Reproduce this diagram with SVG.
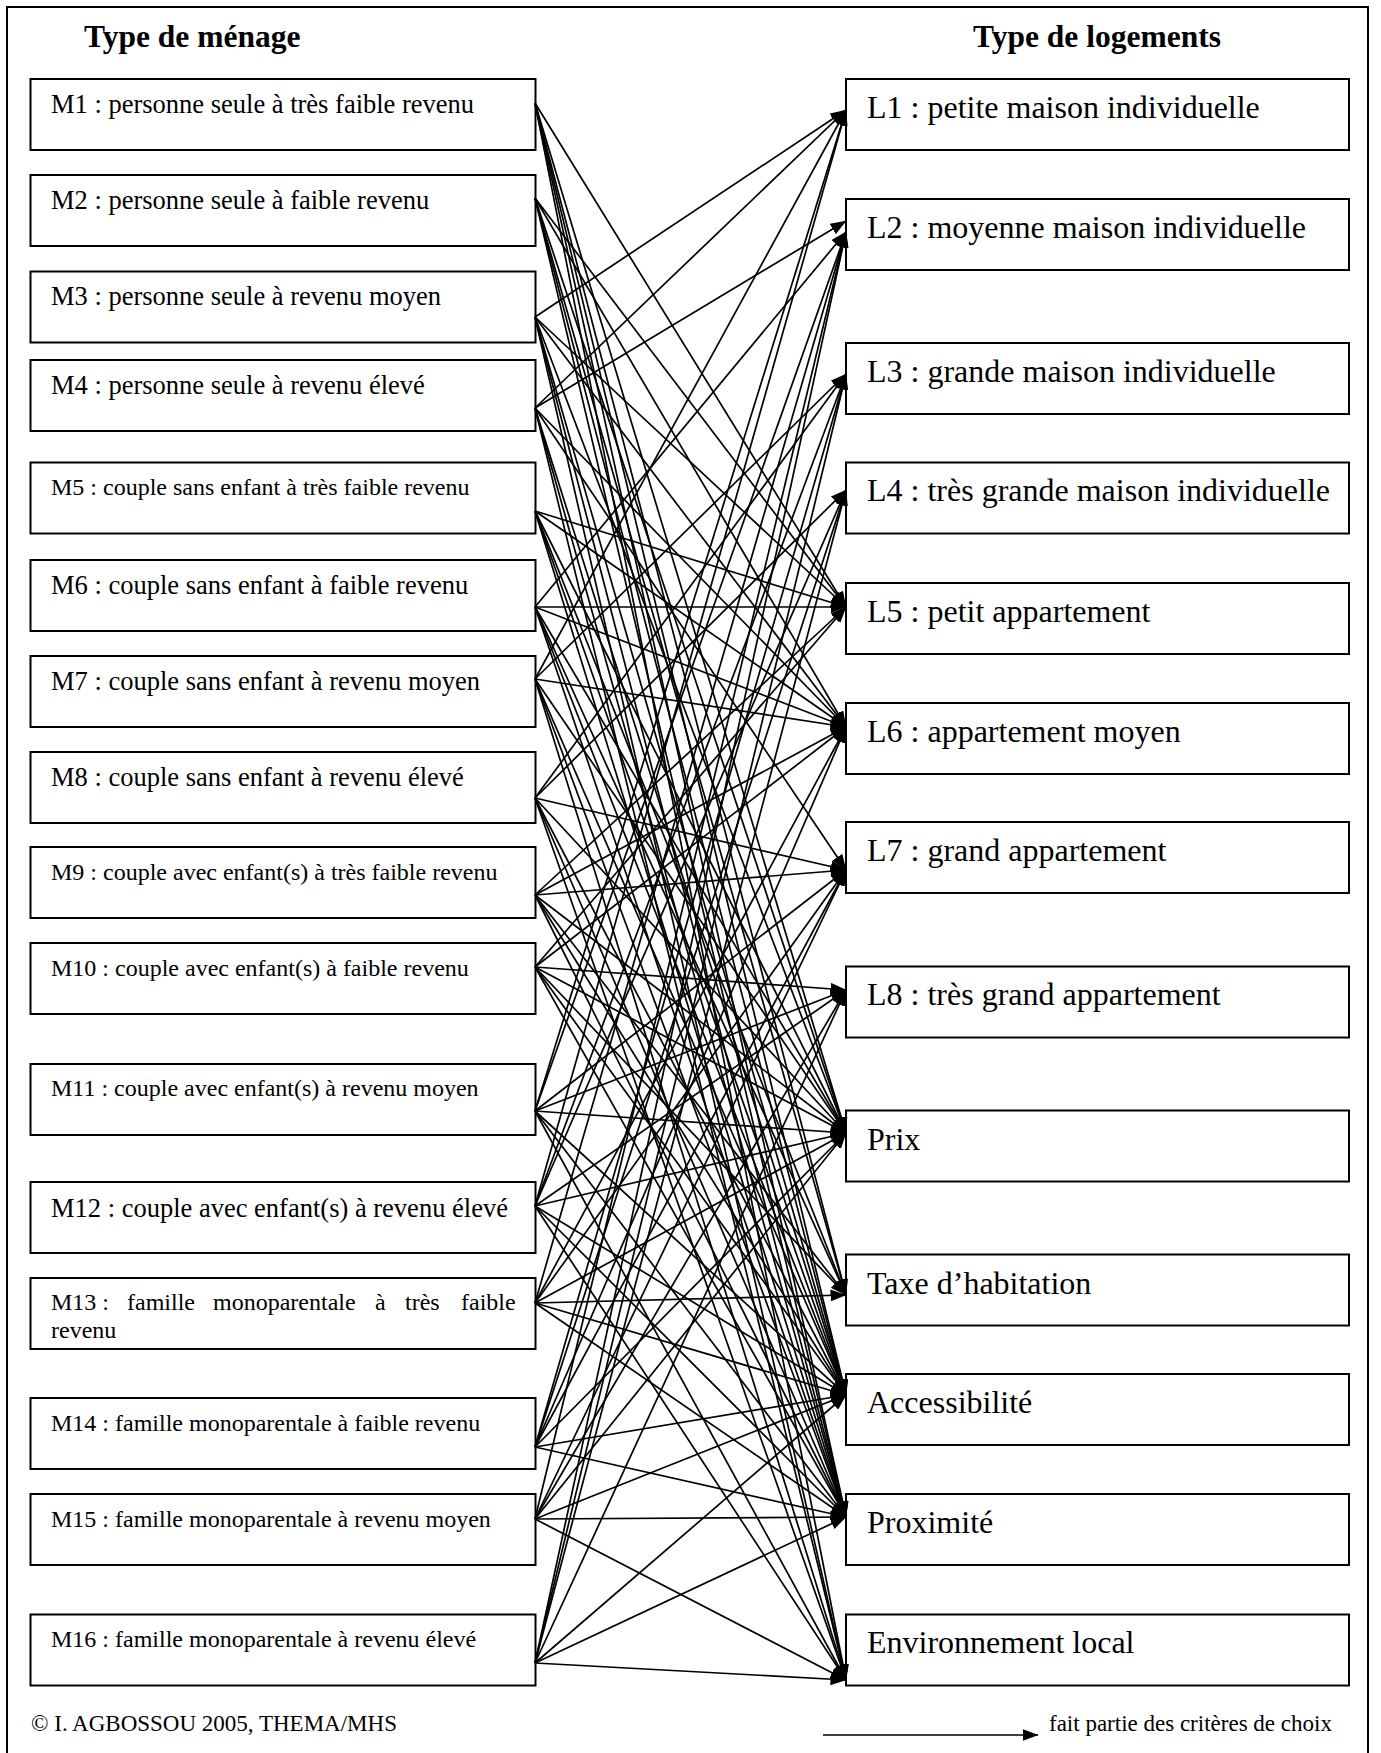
<svg xmlns="http://www.w3.org/2000/svg" width="1381" height="1753" viewBox="0 0 1381 1753">
<style>
.bx{fill:#fff;stroke:#000;stroke-width:2}
text{font-family:"Liberation Serif","Times New Roman",serif;fill:#000}
.m{font-size:26.5px}
.ms{font-size:24px}
.l{font-size:32px}
.t{font-size:31.5px;font-weight:bold}
.f{font-size:23px}
#connectors line{stroke:#000;stroke-width:1.7;marker-end:url(#ah)}
</style>
<defs>
<marker id="ah" markerUnits="userSpaceOnUse" viewBox="0 0 16 12" markerWidth="16" markerHeight="12" refX="15.5" refY="6" orient="auto"><path d="M0,0 L16,6 L0,12 z" fill="#000"/></marker>
</defs>
<rect x="0" y="0" width="1381" height="1753" fill="#fff"/>
<rect x="7" y="7" width="1361" height="1770" fill="none" stroke="#000" stroke-width="2"/>
<text class="t" x="84" y="47">Type de ménage</text>
<text class="t" x="973" y="47">Type de logements</text>

<g id="m1"><rect class="bx" x="30.5" y="79" width="505" height="71"/><text class="m" x="51" y="113">M1 : personne seule à très faible revenu</text></g>
<g id="m2"><rect class="bx" x="30.5" y="175" width="505" height="71"/><text class="m" x="51" y="209">M2 : personne seule à faible revenu</text></g>
<g id="m3"><rect class="bx" x="30.5" y="271.5" width="505" height="71"/><text class="m" x="51" y="305">M3 : personne seule à revenu moyen</text></g>
<g id="m4"><rect class="bx" x="30.5" y="360" width="505" height="71"/><text class="m" x="51" y="394">M4 : personne seule à revenu élevé</text></g>
<g id="m5"><rect class="bx" x="30.5" y="462.5" width="505" height="71"/><text class="ms" x="51" y="495">M5 : couple sans enfant à très faible revenu</text></g>
<g id="m6"><rect class="bx" x="30.5" y="560" width="505" height="71"/><text class="m" x="51" y="594">M6 : couple sans enfant à faible revenu</text></g>
<g id="m7"><rect class="bx" x="30.5" y="656" width="505" height="71"/><text class="m" x="51" y="690">M7 : couple sans enfant à revenu moyen</text></g>
<g id="m8"><rect class="bx" x="30.5" y="752" width="505" height="71"/><text class="m" x="51" y="786">M8 : couple sans enfant à revenu élevé</text></g>
<g id="m9"><rect class="bx" x="30.5" y="847" width="505" height="71"/><text class="ms" x="51" y="880">M9 : couple avec enfant(s) à très faible revenu</text></g>
<g id="m10"><rect class="bx" x="30.5" y="943" width="505" height="71"/><text class="ms" x="51" y="976">M10 : couple avec enfant(s) à faible revenu</text></g>
<g id="m11"><rect class="bx" x="30.5" y="1064" width="505" height="71"/><text class="ms" x="51" y="1096">M11 : couple avec enfant(s) à revenu moyen</text></g>
<g id="m12"><rect class="bx" x="30.5" y="1182" width="505" height="71"/><text class="m" x="51" y="1217">M12 : couple avec enfant(s) à revenu élevé</text></g>
<g id="m13"><rect class="bx" x="30.5" y="1278" width="505" height="71"/><text class="ms" y="1310"><tspan x="51">M13 :</tspan><tspan x="127">famille</tspan><tspan x="213">monoparentale</tspan><tspan x="375">à</tspan><tspan x="405">très</tspan><tspan x="461">faible</tspan></text><text class="ms" x="51" y="1338">revenu</text></g>
<g id="m14"><rect class="bx" x="30.5" y="1398" width="505" height="71"/><text class="ms" x="51" y="1431">M14 : famille monoparentale à faible revenu</text></g>
<g id="m15"><rect class="bx" x="30.5" y="1494" width="505" height="71"/><text class="ms" x="51" y="1527">M15 : famille monoparentale à revenu moyen</text></g>
<g id="m16"><rect class="bx" x="30.5" y="1614.5" width="505" height="71"/><text class="ms" x="51" y="1647">M16 : famille monoparentale à revenu élevé</text></g>

<g id="l1"><rect class="bx" x="846" y="79" width="503" height="71"/><text class="l" x="867" y="118">L1 : petite maison individuelle</text></g>
<g id="l2"><rect class="bx" x="846" y="199" width="503" height="71"/><text class="l" x="867" y="238">L2 : moyenne maison individuelle</text></g>
<g id="l3"><rect class="bx" x="846" y="343" width="503" height="71"/><text class="l" x="867" y="382">L3 : grande maison individuelle</text></g>
<g id="l4"><rect class="bx" x="846" y="462.5" width="503" height="71"/><text class="l" x="867" y="501">L4 : très grande maison individuelle</text></g>
<g id="l5"><rect class="bx" x="846" y="583" width="503" height="71"/><text class="l" x="867" y="622">L5 : petit appartement</text></g>
<g id="l6"><rect class="bx" x="846" y="703" width="503" height="71"/><text class="l" x="867" y="742">L6 : appartement moyen</text></g>
<g id="l7"><rect class="bx" x="846" y="822" width="503" height="71"/><text class="l" x="867" y="861">L7 : grand appartement</text></g>
<g id="l8"><rect class="bx" x="846" y="966.5" width="503" height="71"/><text class="l" x="867" y="1005">L8 : très grand appartement</text></g>
<g id="prix"><rect class="bx" x="846" y="1110.5" width="503" height="71"/><text class="l" x="867" y="1150">Prix</text></g>
<g id="taxe"><rect class="bx" x="846" y="1254.5" width="503" height="71"/><text class="l" x="867" y="1294">Taxe d’habitation</text></g>
<g id="acces"><rect class="bx" x="846" y="1374" width="503" height="71"/><text class="l" x="867" y="1413">Accessibilité</text></g>
<g id="prox"><rect class="bx" x="846" y="1494" width="503" height="71"/><text class="l" x="867" y="1533">Proximité</text></g>
<g id="env"><rect class="bx" x="846" y="1614.5" width="503" height="71"/><text class="l" x="867" y="1653">Environnement local</text></g>

<g id="connectors">
<line x1="535" y1="103" x2="846" y2="607"/><line x1="535" y1="103" x2="846" y2="1133"/><line x1="535" y1="103" x2="846" y2="1295"/><line x1="535" y1="103" x2="846" y2="1395"/><line x1="535" y1="103" x2="846" y2="1517"/><line x1="535" y1="103" x2="846" y2="1680"/>
<line x1="535" y1="198" x2="846" y2="607"/><line x1="535" y1="198" x2="846" y2="727"/><line x1="535" y1="198" x2="846" y2="1133"/><line x1="535" y1="198" x2="846" y2="1295"/><line x1="535" y1="198" x2="846" y2="1395"/><line x1="535" y1="198" x2="846" y2="1517"/>
<line x1="535" y1="317" x2="846" y2="110"/><line x1="535" y1="317" x2="846" y2="607"/><line x1="535" y1="317" x2="846" y2="727"/><line x1="535" y1="317" x2="846" y2="1133"/><line x1="535" y1="317" x2="846" y2="1395"/><line x1="535" y1="317" x2="846" y2="1517"/><line x1="535" y1="317" x2="846" y2="1680"/>
<line x1="535" y1="408" x2="846" y2="110"/><line x1="535" y1="408" x2="846" y2="221"/><line x1="535" y1="408" x2="846" y2="727"/><line x1="535" y1="408" x2="846" y2="870"/><line x1="535" y1="408" x2="846" y2="1395"/><line x1="535" y1="408" x2="846" y2="1517"/><line x1="535" y1="408" x2="846" y2="1680"/>
<line x1="535" y1="511" x2="846" y2="607"/><line x1="535" y1="511" x2="846" y2="727"/><line x1="535" y1="511" x2="846" y2="1133"/><line x1="535" y1="511" x2="846" y2="1295"/><line x1="535" y1="511" x2="846" y2="1395"/><line x1="535" y1="511" x2="846" y2="1517"/>
<line x1="535" y1="607" x2="846" y2="232"/><line x1="535" y1="607" x2="846" y2="607"/><line x1="535" y1="607" x2="846" y2="727"/><line x1="535" y1="607" x2="846" y2="1133"/><line x1="535" y1="607" x2="846" y2="1295"/><line x1="535" y1="607" x2="846" y2="1395"/><line x1="535" y1="607" x2="846" y2="1517"/>
<line x1="535" y1="679" x2="846" y2="110"/><line x1="535" y1="679" x2="846" y2="374"/><line x1="535" y1="679" x2="846" y2="727"/><line x1="535" y1="679" x2="846" y2="1133"/><line x1="535" y1="679" x2="846" y2="1395"/><line x1="535" y1="679" x2="846" y2="1517"/><line x1="535" y1="679" x2="846" y2="1680"/>
<line x1="535" y1="798" x2="846" y2="374"/><line x1="535" y1="798" x2="846" y2="490"/><line x1="535" y1="798" x2="846" y2="870"/><line x1="535" y1="798" x2="846" y2="1133"/><line x1="535" y1="798" x2="846" y2="1395"/><line x1="535" y1="798" x2="846" y2="1517"/><line x1="535" y1="798" x2="846" y2="1680"/>
<line x1="535" y1="895" x2="846" y2="607"/><line x1="535" y1="895" x2="846" y2="727"/><line x1="535" y1="895" x2="846" y2="870"/><line x1="535" y1="895" x2="846" y2="1133"/><line x1="535" y1="895" x2="846" y2="1295"/><line x1="535" y1="895" x2="846" y2="1395"/><line x1="535" y1="895" x2="846" y2="1517"/>
<line x1="535" y1="967" x2="846" y2="607"/><line x1="535" y1="967" x2="846" y2="727"/><line x1="535" y1="967" x2="846" y2="990"/><line x1="535" y1="967" x2="846" y2="1133"/><line x1="535" y1="967" x2="846" y2="1295"/><line x1="535" y1="967" x2="846" y2="1395"/><line x1="535" y1="967" x2="846" y2="1517"/>
<line x1="535" y1="1111" x2="846" y2="110"/><line x1="535" y1="1111" x2="846" y2="232"/><line x1="535" y1="1111" x2="846" y2="870"/><line x1="535" y1="1111" x2="846" y2="990"/><line x1="535" y1="1111" x2="846" y2="1133"/><line x1="535" y1="1111" x2="846" y2="1395"/><line x1="535" y1="1111" x2="846" y2="1517"/><line x1="535" y1="1111" x2="846" y2="1680"/>
<line x1="535" y1="1206" x2="846" y2="110"/><line x1="535" y1="1206" x2="846" y2="374"/><line x1="535" y1="1206" x2="846" y2="490"/><line x1="535" y1="1206" x2="846" y2="990"/><line x1="535" y1="1206" x2="846" y2="1133"/><line x1="535" y1="1206" x2="846" y2="1395"/><line x1="535" y1="1206" x2="846" y2="1517"/><line x1="535" y1="1206" x2="846" y2="1680"/>
<line x1="535" y1="1303" x2="846" y2="232"/><line x1="535" y1="1303" x2="846" y2="727"/><line x1="535" y1="1303" x2="846" y2="870"/><line x1="535" y1="1303" x2="846" y2="1133"/><line x1="535" y1="1303" x2="846" y2="1295"/><line x1="535" y1="1303" x2="846" y2="1395"/><line x1="535" y1="1303" x2="846" y2="1517"/>
<line x1="535" y1="1447" x2="846" y2="374"/><line x1="535" y1="1447" x2="846" y2="490"/><line x1="535" y1="1447" x2="846" y2="727"/><line x1="535" y1="1447" x2="846" y2="870"/><line x1="535" y1="1447" x2="846" y2="1133"/><line x1="535" y1="1447" x2="846" y2="1395"/><line x1="535" y1="1447" x2="846" y2="1517"/>
<line x1="535" y1="1519" x2="846" y2="232"/><line x1="535" y1="1519" x2="846" y2="870"/><line x1="535" y1="1519" x2="846" y2="990"/><line x1="535" y1="1519" x2="846" y2="1133"/><line x1="535" y1="1519" x2="846" y2="1395"/><line x1="535" y1="1519" x2="846" y2="1517"/><line x1="535" y1="1519" x2="846" y2="1680"/>
<line x1="535" y1="1663" x2="846" y2="232"/><line x1="535" y1="1663" x2="846" y2="374"/><line x1="535" y1="1663" x2="846" y2="490"/><line x1="535" y1="1663" x2="846" y2="990"/><line x1="535" y1="1663" x2="846" y2="1395"/><line x1="535" y1="1663" x2="846" y2="1517"/><line x1="535" y1="1663" x2="846" y2="1680"/>
<line x1="823" y1="1735" x2="1038" y2="1735"/>
</g>
<text class="f" x="31" y="1731">© I. AGBOSSOU 2005, THEMA/MHS</text>
<text class="f" x="1049" y="1731">fait partie des critères de choix</text>
</svg>
